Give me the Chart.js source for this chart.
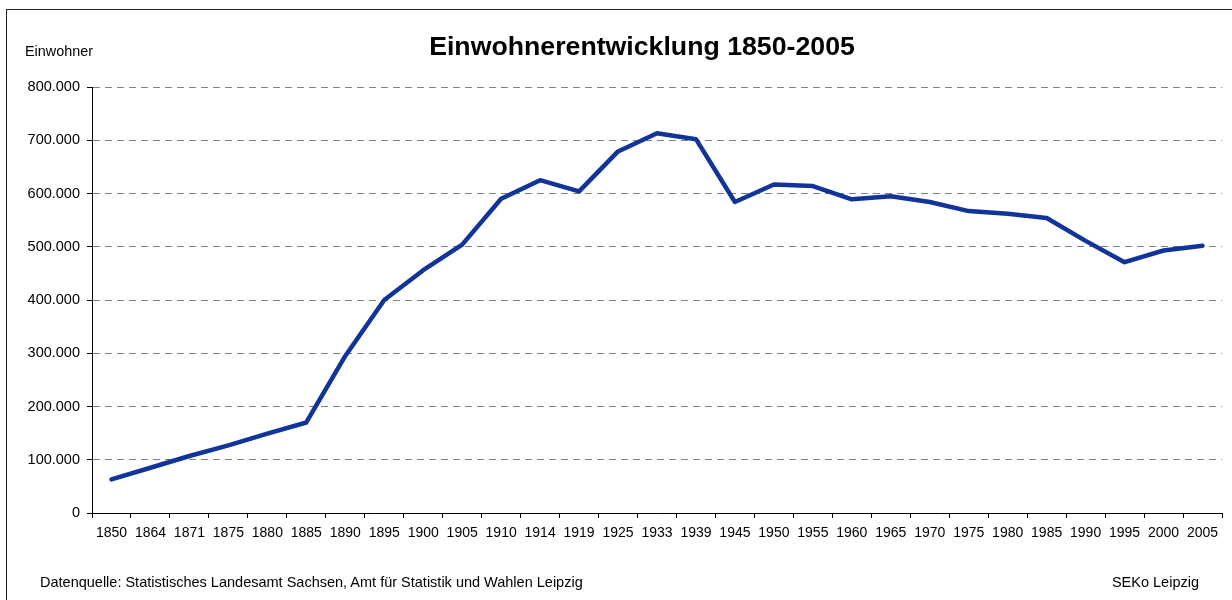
<!DOCTYPE html>
<html>
<head>
<meta charset="utf-8">
<script src="https://cdn.jsdelivr.net/npm/chart.js@4"></script>
<style>
  body { margin: 0; background: #fff; }
  #wrap { position: relative; width: 1232px; height: 600px; overflow: hidden; font-family: "Liberation Sans", Arial, sans-serif; color: #000; }
  #frame { position: absolute; left: 6px; top: 9px; width: 1300px; height: 700px; border-left: 1px solid #222; border-top: 1px solid #222; }
  canvas { position: absolute; left: 0; top: 0; }
  .txt { position: absolute; white-space: nowrap; }
  #title { left: 0; width: 1284px; top: 31px; text-align: center; font-weight: bold; font-size: 26.7px; }
  #ylab { left: 25px; top: 43px; font-size: 14.4px; }
  #src { left: 40px; top: 574px; font-size: 14.5px; }
  #seko { right: 33px; top: 574px; font-size: 14.5px; }
</style>
</head>
<body>
<div id="wrap">
  <div id="frame"></div>
  <canvas id="chart" width="1232" height="600"></canvas>
  <div class="txt" id="title">Einwohnerentwicklung 1850-2005</div>
  <div class="txt" id="ylab">Einwohner</div>
  <div class="txt" id="src">Datenquelle: Statistisches Landesamt Sachsen, Amt für Statistik und Wahlen Leipzig</div>
  <div class="txt" id="seko">SEKo Leipzig</div>
</div>
<script>
// Einwohner Leipzig 1850-2005
var years = ['1850', '1864', '1871', '1875', '1880', '1885', '1890', '1895', '1900', '1905',
  '1910', '1914', '1919', '1925', '1933', '1939', '1945', '1950', '1955', '1960',
  '1965', '1970', '1975', '1980', '1985', '1990', '1995', '2000', '2005'];
var einwohner = [63000, 85000, 107000, 127000, 149000, 170000, 295000, 400000, 456000, 504000,
  590000, 625000, 604000, 679000, 713000, 702000, 584000, 617000, 614000, 589000,
  595000, 584000, 567000, 562000, 554000, 511000, 471000, 493000, 502000];
var yMin = 0, yMax = 800000, yStep = 100000;

function fmt(v) {
  return String(v).replace(/\B(?=(\d{3})+(?!\d))/g, '.');
}

var ctx = document.getElementById('chart').getContext('2d');
var chart = new Chart(ctx, {
  type: 'line',
  data: {
    labels: years,
    datasets: [{
      label: 'Einwohner',
      data: einwohner,
      borderColor: '#10349a',
      borderWidth: 4.5,
      pointRadius: 0,
      tension: 0,
      borderCapStyle: 'round',
      borderJoinStyle: 'round',
      fill: false
    }]
  },
  options: {
    responsive: false,
    animation: false,
    layout: { padding: { top: 87, left: 0, right: 10, bottom: 57 } },
    plugins: {
      legend: { display: false },
      tooltip: { enabled: false }
    },
    scales: {
      x: {
        offset: true,
        afterFit: function (s) { s.height = 30; },
        grid: { offset: true, drawOnChartArea: false, tickLength: 5, tickColor: '#000', color: '#000' },
        border: { color: '#000', width: 1 },
        ticks: {
          autoSkip: false, maxRotation: 0, padding: 7, color: '#000',
          font: { family: '"Liberation Sans", Arial, sans-serif', size: 14 }
        }
      },
      y: {
        min: yMin, max: yMax,
        afterFit: function (s) { s.width = 92; },
        grid: {
          color: function (c) { return c.tick && c.tick.value === 0 ? 'rgba(0,0,0,0)' : '#7f7f7f'; },
          tickColor: '#000', tickLength: 5, tickBorderDash: [], lineWidth: 1
        },
        border: { color: '#000', width: 1, dash: [7, 5] },
        ticks: {
          stepSize: yStep, padding: 7, color: '#000',
          font: { family: '"Liberation Sans", Arial, sans-serif', size: 14.5 },
          callback: function (v) { return fmt(v); }
        }
      }
    }
  }
});
</script>
</body>
</html>
